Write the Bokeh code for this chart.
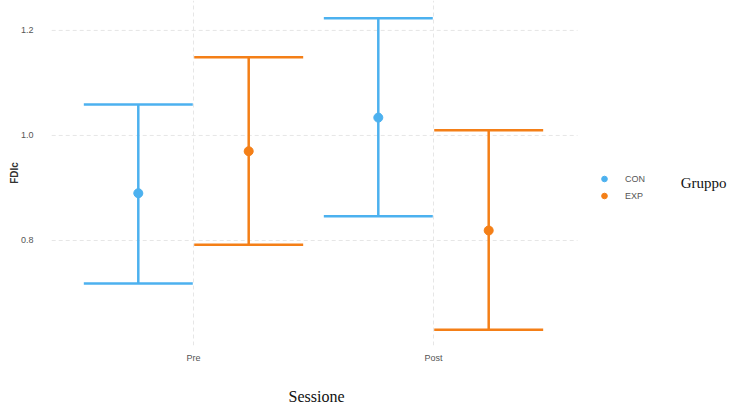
from bokeh.plotting import figure
from bokeh.models import (ColumnDataSource, FixedTicker, Legend, LegendItem, Label, Range1d, Title)
from bokeh.embed import file_html
from bokeh.resources import INLINE

sessions = ["Pre", "Post"]
groups = ["CON", "EXP"]
con_mean = [0.890, 1.034]
con_lower = [0.718, 0.846]
con_upper = [1.059, 1.223]
exp_mean = [0.970, 0.819]
exp_lower = [0.792, 0.630]
exp_upper = [1.149, 1.010]
y_ticks = [0.8, 1.0, 1.2]

colors = {"CON": "#4cb1ef", "EXP": "#f47f17"}
dodge = {"CON": -0.23, "EXP": 0.23}
cap_half = 0.227

p = figure(output_backend="svg", toolbar_location=None,
           frame_width=681, frame_height=345,
           x_range=Range1d(0.4, 3.2375), y_range=Range1d(0.6, 1.257),
           min_border_left=49, min_border_top=0, min_border_right=0,
           min_border_bottom=63)
p.outline_line_color = None
p.background_fill_color = "white"

# horizontal grid lines limited to the data panel
p.segment(x0=[0.38] * len(y_ticks), y0=y_ticks, x1=[2.6] * len(y_ticks), y1=y_ticks,
          line_color="#e6e6e6", line_dash="4 3", line_width=1)

data = {"CON": (con_mean, con_lower, con_upper), "EXP": (exp_mean, exp_lower, exp_upper)}
renderers = {}
for g in groups:
    m, lo, hi = data[g]
    xs = [i + 1 + dodge[g] for i in range(len(sessions))]
    src = ColumnDataSource(dict(x=xs, x0=[x - cap_half for x in xs], x1=[x + cap_half for x in xs],
                                m=m, lo=lo, hi=hi))
    p.segment(x0="x", y0="lo", x1="x", y1="hi", source=src, line_color=colors[g], line_width=2.5)
    p.segment(x0="x0", y0="lo", x1="x1", y1="lo", source=src, line_color=colors[g], line_width=2.5)
    p.segment(x0="x0", y0="hi", x1="x1", y1="hi", source=src, line_color=colors[g], line_width=2.5)
    renderers[g] = p.scatter(x="x", y="m", source=src, size=9, fill_color=colors[g],
                             line_color=colors[g])

p.xaxis.ticker = FixedTicker(ticks=[1, 2])
p.xaxis.major_label_overrides = {1: sessions[0], 2: sessions[1]}
p.yaxis.ticker = FixedTicker(ticks=y_ticks)
p.yaxis.major_label_overrides = {0.8: "0.8", 1.0: "1.0", 1.2: "1.2"}
for ax in (p.xaxis[0], p.yaxis[0]):
    ax.axis_line_color = None
    ax.major_tick_line_color = None
    ax.minor_tick_line_color = None
    ax.major_label_text_color = "#555555"
    ax.major_label_text_font = "Liberation Sans"
    ax.major_label_text_font_size = "9px"
p.xaxis.major_label_standoff = 1
p.yaxis.major_label_standoff = 10

p.yaxis.axis_label = "FDIc"
p.yaxis.axis_label_text_font = "Liberation Sans"
p.yaxis.axis_label_text_font_size = "10px"
p.yaxis.axis_label_text_font_style = "bold"
p.yaxis.axis_label_text_color = "#333333"
p.yaxis.axis_label_standoff = -2

p.add_layout(Title(text="Sessione", align="left", offset=239, standoff=40,
                   text_font="Liberation Serif", text_font_size="16px",
                   text_font_style="normal", text_color="#111111"), "below")

p.xgrid.grid_line_color = "#e6e6e6"
p.xgrid.grid_line_dash = "4 3"
p.ygrid.grid_line_color = None

legend = Legend(items=[LegendItem(label=g, renderers=[renderers[g]]) for g in groups],
                location=(548, 141), padding=0, margin=0, spacing=0,
                glyph_width=14, glyph_height=17, label_standoff=14,
                label_text_font="Liberation Sans", label_text_font_size="9px",
                label_text_color="#555555", border_line_color=None,
                background_fill_alpha=0)
p.add_layout(legend, "center")

p.add_layout(Label(x=3.03, y=0.909, text="Gruppo", text_font="Liberation Serif",
                   text_font_size="15px", text_color="#111111", text_baseline="middle"))

open("out.html", "w").write(file_html(p, INLINE))
